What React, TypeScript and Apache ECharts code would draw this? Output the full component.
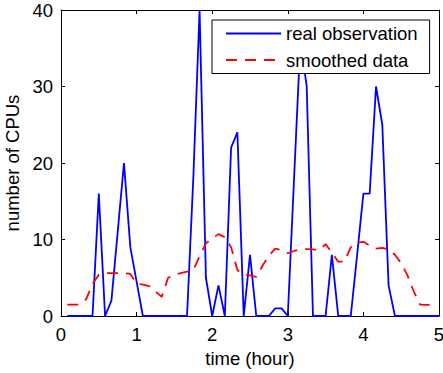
import React, { useEffect, useRef } from "react";
import * as echarts from "echarts";

const timeHours = [
  0.083, 0.167, 0.25, 0.333, 0.417, 0.5, 0.583, 0.667, 0.75, 0.833,
  0.917, 1.0, 1.083, 1.167, 1.25, 1.333, 1.417, 1.5, 1.583, 1.667,
  1.75, 1.833, 1.917, 2.0, 2.083, 2.167, 2.25, 2.333, 2.417, 2.5,
  2.583, 2.667, 2.75, 2.833, 2.917, 3.0, 3.083, 3.167, 3.25, 3.333,
  3.417, 3.5, 3.583, 3.667, 3.75, 3.833, 3.917, 4.0, 4.083, 4.167,
  4.25, 4.333, 4.417, 4.5, 4.583, 4.667, 4.75, 4.833, 4.917, 5.0,
];

const realObservation = [
  0, 0, 0, 0, 0, 16, 0, 2, 11, 20,
  9, 4.5, 0, 0, 0, 0, 0, 0, 0, 0,
  18, 40, 5, 0, 4, 0, 22, 24, 0, 8,
  0, 0, 0, 1, 1, 0, 18, 36, 30, 0,
  0, 0, 8, 0, 0, 0, 8, 16, 16, 30,
  25, 4, 0, 0, 0, 0, 0, 0, 0, 0,
];

const smoothedData = [
  1.5, 1.5, 1.5, 2.2, 4.2, 5.4, 5.6, 5.6, 5.6, 5.6,
  5.5, 4.2, 4.1, 3.9, 3.2, 2.5, 5.0, 5.4, 5.6, 5.8,
  6.0, 7.8, 9.5, 10.1, 10.7, 10.3, 9.0, 6.0, 5.4, 5.3,
  5.1, 6.6, 7.9, 8.8, 8.6, 8.2, 8.5, 8.7, 8.75, 8.7,
  8.6, 9.4, 8.3, 7.1, 7.1, 9.0, 9.6, 9.7, 9.2, 8.8,
  8.9, 8.7, 8.0, 6.9, 5.3, 3.2, 1.5, 1.45, 1.45,
];

const FONT = "'Liberation Sans', Arial, Helvetica, sans-serif";
const FS = 18.5;

export default function App() {
  const ref = useRef<HTMLDivElement>(null);
  useEffect(() => {
    if (!ref.current) return;
    const chart = echarts.init(ref.current, undefined, { renderer: "svg" });
    const realPts = timeHours.map((t, i) => [t, realObservation[i]]);
    const smoothPts = smoothedData.map((v, i) => [timeHours[i], v]);
    const tickStyle = { show: true, inside: true, length: 4, lineStyle: { color: "#000", width: 1 } };
    const lineStyleAxis = { show: true, onZero: false, lineStyle: { color: "#000", width: 1 } };
    chart.setOption({
      animation: false,
      backgroundColor: "#fff",
      textStyle: { fontFamily: FONT },
      grid: {
        left: 61,
        top: 10,
        width: 378,
        height: 306,
        containLabel: false,
        outerBoundsMode: "none",
      },
      legend: {
        show: true,
        orient: "vertical",
        left: 212,
        top: 20,
        padding: [4, 12, 4, 13],
        itemGap: 7.5,
        itemWidth: 55,
        itemHeight: 14,
        backgroundColor: "#fff",
        borderColor: "#000",
        borderWidth: 1,
        itemStyle: { opacity: 0 },
        textStyle: { color: "#000", fontSize: FS, fontFamily: FONT },
        data: ["real observation", "smoothed data"],
      },
      xAxis: [
        {
          type: "value",
          min: 0,
          max: 5,
          interval: 1,
          position: "bottom",
          name: "time (hour)",
          nameLocation: "middle",
          nameGap: 32,
          nameTextStyle: { color: "#000", fontSize: FS, fontFamily: FONT },
          axisLine: lineStyleAxis,
          axisTick: tickStyle,
          axisLabel: { color: "#000", fontSize: FS, fontFamily: FONT, margin: 9 },
          splitLine: { show: false },
        },
        {
          type: "value",
          min: 0,
          max: 5,
          interval: 1,
          position: "top",
          axisLine: lineStyleAxis,
          axisTick: tickStyle,
          axisLabel: { show: false },
          splitLine: { show: false },
        },
      ],
      yAxis: [
        {
          type: "value",
          min: 0,
          max: 40,
          interval: 10,
          position: "left",
          name: "number of CPUs",
          nameLocation: "middle",
          nameGap: 31,
          nameTextStyle: { color: "#000", fontSize: FS, fontFamily: FONT },
          axisLine: lineStyleAxis,
          axisTick: tickStyle,
          axisLabel: { color: "#000", fontSize: FS, fontFamily: FONT, margin: 8 },
          splitLine: { show: false },
        },
        {
          type: "value",
          min: 0,
          max: 40,
          interval: 10,
          position: "right",
          axisLine: lineStyleAxis,
          axisTick: tickStyle,
          axisLabel: { show: false },
          splitLine: { show: false },
        },
      ],
      series: [
        {
          name: "real observation",
          type: "line",
          data: realPts,
          symbol: "none",
          showSymbol: false,
          clip: true,
          itemStyle: { color: "#0000ff" },
          lineStyle: { color: "#0000ff", width: 1.8 },
          z: 2,
        },
        {
          name: "smoothed data",
          type: "line",
          data: smoothPts,
          symbol: "none",
          showSymbol: false,
          clip: true,
          itemStyle: { color: "#ff0000" },
          lineStyle: { color: "#ff0000", width: 1.8, type: [11, 8] },
          z: 3,
        },
      ],
    });
    return () => chart.dispose();
  }, []);
  return (
    <div
      ref={ref}
      style={{ position: "fixed", left: 0, top: 0, width: 443, height: 373, background: "#fff" }}
    />
  );
}
